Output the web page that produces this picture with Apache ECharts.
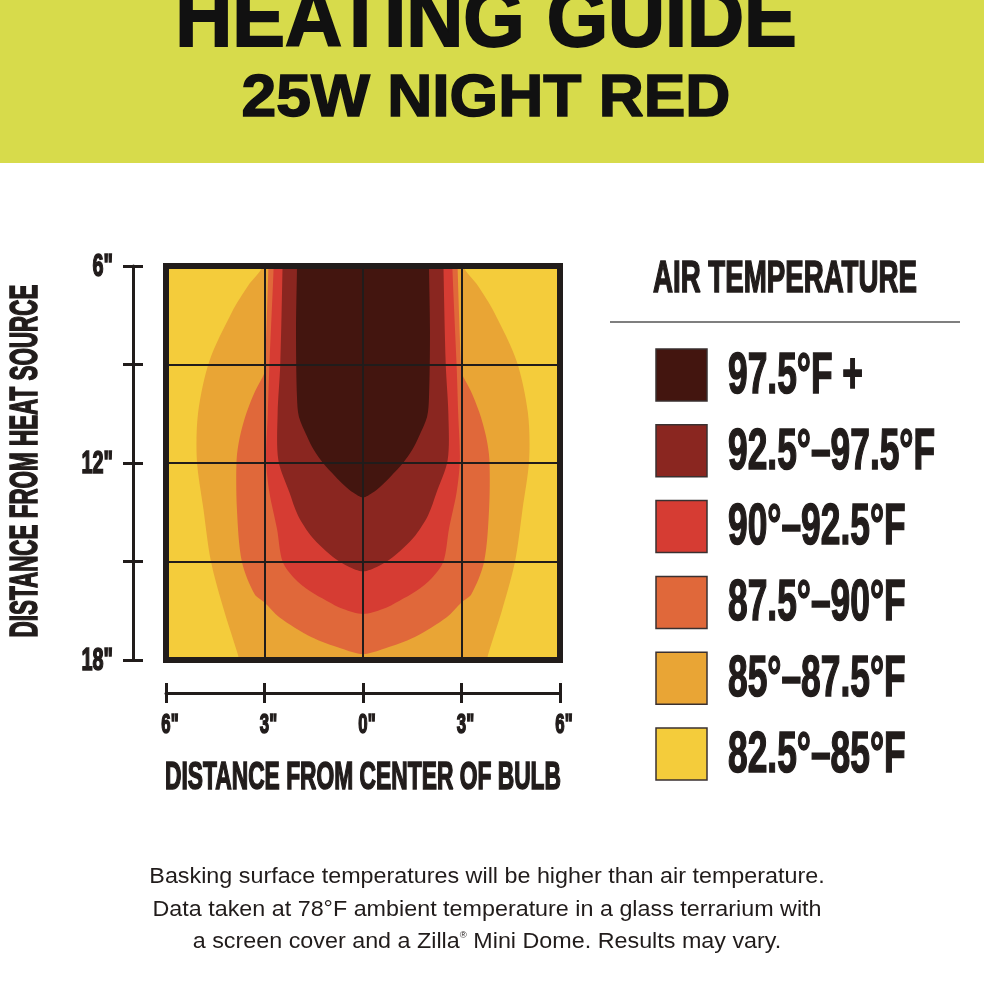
<!doctype html>
<html>
	<head>
		<meta charset="utf-8">
		<title>Heating guide 25W Night Red</title>
		<style>
			html, body { margin: 0; padding: 0; background: #ffffff; }
			#main { width: 984px; height: 984px; }
		</style>
	</head>
	<body>
		<div id="main"></div>
		<script src="https://cdn.jsdelivr.net/npm/echarts@6/dist/echarts.min.js"></script>
		<script>
			// axis ticks (inches)
			var X_TICKS = [-6, -3, 0, 3, 6];
			var X_TICK_LABELS = ['6"', '3"', '0"', '3"', '6"'];
			var Y_TICKS = [6, 9, 12, 15, 18];
			var Y_TICK_LABELS = ['6"', '', '12"', '', '18"'];

			// temperature bands, outermost first
			var BAND_NAMES = ['82.5°–85°F', '85°–87.5°F', '87.5°–90°F', '90°–92.5°F', '92.5°–97.5°F', '97.5°F +'];
			var BAND_COLORS = ['#f4cc3b', '#e9a535', '#e0683a', '#d63c33', '#8a2620', '#43150f'];

			// each band: depth from heat source (in) and half width from bulb centre (in)
			var YELLOW_DEPTH = [6, 18];
			var YELLOW_HALF = [6, 6];
			var LIGHT_ORANGE_DEPTH = [6, 6.6, 7.4, 8.9, 10.45, 11.9, 13.4, 15, 16.5, 17.8, 18];
			var LIGHT_ORANGE_HALF = [3.05, 3.5, 3.99, 4.68, 5.02, 5.06, 4.86, 4.63, 4.23, 3.82, 3.78];
			var ORANGE_DEPTH = [6, 9, 9.25, 9.8, 10.45, 11.2, 11.9, 13.4, 15, 16, 16.25, 16.7, 17.3, 17.65, 17.82];
			var ORANGE_HALF = [2.88, 2.98, 3.0, 3.28, 3.54, 3.75, 3.85, 3.84, 3.69, 3.3, 3.0, 2.55, 1.58, 0.66, 0];
			var RED_DEPTH = [6, 9, 10.5, 11.9, 12.9, 14, 15, 15.5, 15.9, 16.2, 16.45, 16.6];
			var RED_HALF = [2.72, 2.85, 2.9, 2.95, 2.85, 2.62, 2.45, 2.1, 1.62, 1.1, 0.6, 0];
			var DARK_RED_DEPTH = [6, 9, 10.5, 11.9, 12.9, 13.6, 14.2, 14.6, 14.95, 15.15, 15.3];
			var DARK_RED_HALF = [2.45, 2.52, 2.6, 2.58, 2.24, 1.98, 1.6, 1.22, 0.8, 0.45, 0];
			var DARKEST_DEPTH = [6, 8, 10, 10.6, 11.2, 11.6, 12, 12.4, 12.7, 12.9, 13.05];
			var DARKEST_HALF = [2.01, 2.04, 2.01, 1.95, 1.7, 1.5, 1.22, 0.85, 0.55, 0.3, 0];

			var BAND_DEPTHS = [YELLOW_DEPTH, LIGHT_ORANGE_DEPTH, ORANGE_DEPTH, RED_DEPTH, DARK_RED_DEPTH, DARKEST_DEPTH];
			var BAND_HALVES = [YELLOW_HALF, LIGHT_ORANGE_HALF, ORANGE_HALF, RED_HALF, DARK_RED_HALF, DARKEST_HALF];

			var INK = '#211c1b';
			var FONT = 'Liberation Sans';

			function renderBand(params, api) {
				var i = api.value(0);
				var depth = BAND_DEPTHS[i];
				var half = BAND_HALVES[i];
				var left = [], right = [];
				for (var k = 0; k < depth.length; k++) {
					left.push(api.coord([-half[k], depth[k]]));
					if (half[k] > 0) right.push(api.coord([half[k], depth[k]]));
				}
				right.reverse();
				var pts = [];
				// run the edges past the plot top so the curve meets it cleanly (clipped anyway)
				pts.push([left[0][0], left[0][1] - 20]);
				pts = pts.concat(left);
				var lastL = left[left.length - 1];
				if (half[half.length - 1] > 0) {
					pts.push([lastL[0], lastL[1] + 20]);
					pts.push([right[0][0], right[0][1] + 20]);
				}
				pts = pts.concat(right);
				pts.push([right[right.length - 1][0], right[right.length - 1][1] - 20]);
				return {
					type: 'polygon',
					shape: { points: pts, smooth: depth.length > 2 ? 0.3 : 0 },
					style: { fill: BAND_COLORS[i] }
				};
			}

			// condensed bold caption text (squeezed sideways)
			function caption(text, x, y, size, sx, align, extra) {
				var el = {
					type: 'text', x: x, y: y, scaleX: sx,
					style: {
						text: text, fontSize: size, fontWeight: 'bold', fontFamily: FONT,
						fill: INK, stroke: INK, lineWidth: 1.6,
						align: align, verticalAlign: 'middle'
					}
				};
				if (extra) for (var key in extra) el[key] = extra[key];
				return el;
			}

			function buildGraphics(chart) {
				var g = [
					{ type: 'rect', shape: { x: 0, y: 0, width: 984, height: 163 }, style: { fill: '#d7db4b' }, z: -10 },
					{ type: 'text', x: 486, y: 23, scaleX: 0.94, style: { text: 'HEATING GUIDE', fontSize: 84, fontWeight: 'bold', fontFamily: FONT, fill: '#111', stroke: '#111', lineWidth: 2, align: 'center', verticalAlign: 'middle' } },
					{ type: 'text', x: 486, y: 99, scaleX: 1.04, style: { text: '25W NIGHT RED', fontSize: 60, fontWeight: 'bold', fontFamily: FONT, fill: '#111', stroke: '#111', lineWidth: 1.5, align: 'center', verticalAlign: 'middle' } },
					caption('DISTANCE FROM HEAT SOURCE', 27, 461, 38, 0.59, 'center', { rotation: Math.PI / 2 }),
					caption('DISTANCE FROM CENTER OF BULB', 363, 779, 38, 0.6, 'center'),
					caption('AIR TEMPERATURE', 653, 280, 45, 0.615, 'left'),
					{ type: 'line', shape: { x1: 610, y1: 322, x2: 960, y2: 322 }, style: { stroke: '#555', lineWidth: 1.5 } },
					{ type: 'text', x: 487, y: 877, scaleX: 1.06, style: { text: 'Basking surface temperatures will be higher than air temperature.', fontSize: 22, fontFamily: FONT, fill: INK, align: 'center', verticalAlign: 'middle' } },
					{ type: 'text', x: 487, y: 910, scaleX: 1.06, style: { text: 'Data taken at 78°F ambient temperature in a glass terrarium with', fontSize: 22, fontFamily: FONT, fill: INK, align: 'center', verticalAlign: 'middle' } },
					{ type: 'text', x: 487, y: 942, scaleX: 1.06, style: {
						text: '{t|a screen cover and a Zilla}{s|®}{t| Mini Dome. Results may vary.}',
						align: 'center', verticalAlign: 'middle',
						rich: {
							t: { fontSize: 22, fontFamily: FONT, fill: INK },
							s: { fontSize: 9, fontFamily: FONT, fill: INK, verticalAlign: 'top', padding: [0, 0, 10, 0] }
						}
					} }
				];
				// legend key, darkest band on top
				for (var j = 0; j < BAND_NAMES.length; j++) {
					var b = BAND_NAMES.length - 1 - j;
					var rowTop = 349 + j * 75.8;
					g.push({ type: 'rect', shape: { x: 656, y: rowTop, width: 51, height: 52 }, style: { fill: BAND_COLORS[b], stroke: '#3a3030', lineWidth: 1.5 } });
					g.push(caption(BAND_NAMES[b], 728, rowTop + 28, 57, 0.62, 'left'));
				}
				// tick labels, placed through the axes' own scales
				for (var a = 0; a < X_TICKS.length; a++) {
					var px = chart.convertToPixel({ xAxisIndex: 0 }, X_TICKS[a]);
					g.push(caption(X_TICK_LABELS[a], px + 4, 725, 28, 0.6, 'center'));
				}
				for (var c = 0; c < Y_TICKS.length; c++) {
					if (!Y_TICK_LABELS[c]) continue;
					var py = chart.convertToPixel({ yAxisIndex: 0 }, Y_TICKS[c]);
					g.push(caption(Y_TICK_LABELS[c], 113, py + 1, 32, 0.62, 'right'));
				}
				return g;
			}

			function axisX(inside) {
				return {
					type: 'value', min: -6, max: 6, interval: 3, position: 'bottom', offset: 33, z: 5,
					axisLine: { show: !inside, onZero: false, lineStyle: { color: INK, width: 3 } },
					axisTick: { show: true, inside: inside, length: 10, lineStyle: { color: INK, width: 3 } },
					axisLabel: { show: false },
					splitLine: { show: !inside, lineStyle: { color: INK, width: 2 } }
				};
			}

			function axisY(inside) {
				return {
					type: 'value', min: 6, max: 18, interval: 3, inverse: true, position: 'left', offset: 33, z: 5,
					axisLine: { show: !inside, onZero: false, lineStyle: { color: INK, width: 3 } },
					axisTick: { show: true, inside: inside, length: 10, lineStyle: { color: INK, width: 3 } },
					axisLabel: { show: false },
					splitLine: { show: !inside, lineStyle: { color: INK, width: 2 } }
				};
			}

			var myChart = echarts.init(document.getElementById('main'));

			var option = {
				animation: false,
				backgroundColor: '#ffffff',
				grid: {
					left: 166, right: 424, top: 266, bottom: 324,
					show: true, backgroundColor: 'transparent',
					borderColor: INK, borderWidth: 6, z: 5
				},
				xAxis: [axisX(false), axisX(true)],
				yAxis: [axisY(false), axisY(true)],
				series: [{
					type: 'custom',
					xAxisIndex: 0,
					yAxisIndex: 0,
					clip: true,
					z: 1,
					renderItem: renderBand,
					data: BAND_NAMES.map(function(n, i) { return [i]; })
				}]
			};

			myChart.setOption(option);
			myChart.setOption({ graphic: buildGraphics(myChart) });
		</script>
	</body>
</html>
